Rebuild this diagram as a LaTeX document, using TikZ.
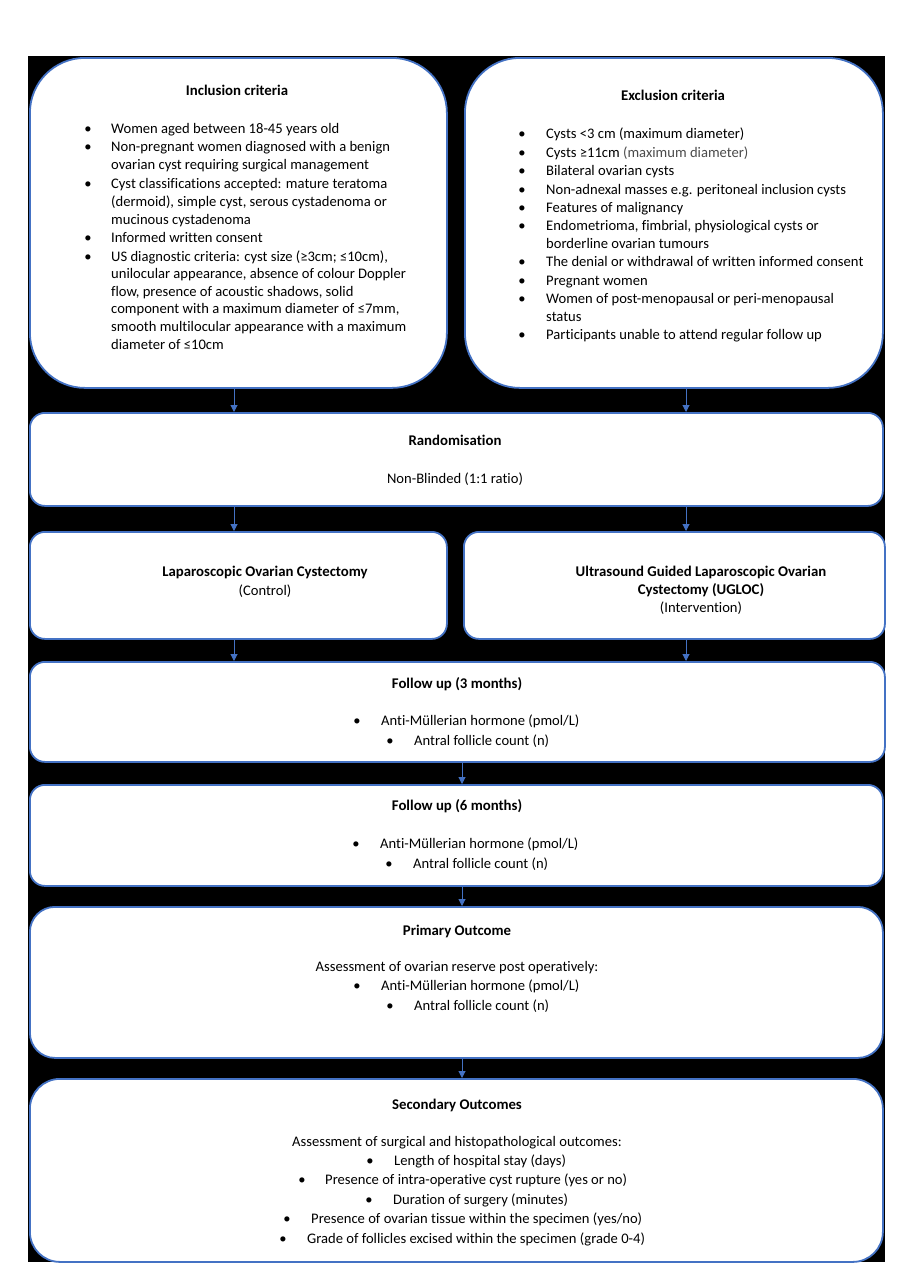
\documentclass[tikz,border=0pt]{standalone}
\usepackage{fontspec}
\setmainfont{Carlito}[Ligatures=NoCommon]
\usetikzlibrary{arrows.meta}
\definecolor{boxblue}{RGB}{68,114,196}
\definecolor{softgray}{RGB}{75,75,75}
\newcommand\bitem[5]{\node[txt] (#1b) at (#2,#4) {\textbullet};\node[txt,anchor=west] (#1) at (#3,#4) {#5};}
\newcommand\contline[4]{\node[txt,anchor=west] (#1) at (#2,#3) {#4};}
\begin{document}
\begin{tikzpicture}[x=1pt,y=-1pt,
  box/.style={draw=boxblue,line width=1.8pt,fill=white,inner sep=0pt,anchor=north west},
  txt/.style={inner sep=0pt,yshift=-1.5pt,font=\fontsize{14.6}{18}\selectfont,text height=11pt,text depth=3.5pt},
  ttl/.style={txt,font=\fontsize{14.8}{18}\selectfont\bfseries},
  arr/.style={draw=boxblue,line width=1pt,-{Triangle[width=7pt,length=7pt]}}]
\path[use as bounding box,fill=white] (0,0) rectangle (905,1280);
\fill[black] (28,56) rectangle (885,1262);
% boxes
\node[box,rounded corners=55pt,minimum width=417pt,minimum height=330pt] (incbox) at (29,57) {};
\node[box,rounded corners=55pt,minimum width=418pt,minimum height=330pt] (exbox) at (464,57) {};
\node[box,rounded corners=15pt,minimum width=853pt,minimum height=93pt] (rand) at (29,412) {};
\node[box,rounded corners=15pt,minimum width=417pt,minimum height=107pt] (ctrl) at (29,531) {};
\node[box,rounded corners=15pt,minimum width=421pt,minimum height=107pt] (interv) at (463,531) {};
\node[box,rounded corners=15pt,minimum width=855pt,minimum height=100pt] (fuA) at (29,661) {};
\node[box,rounded corners=15pt,minimum width=853pt,minimum height=101pt] (fuB) at (29,784) {};
\node[box,rounded corners=25pt,minimum width=853pt,minimum height=151pt] (prim) at (29,906) {};
\node[box,rounded corners=30pt,minimum width=853pt,minimum height=183pt] (sec) at (29,1078) {};
% arrow columns
\coordinate (colL) at (234,0);
\coordinate (colR) at (686,0);
\coordinate (colM) at (462,0);
\draw[arr] (incbox.south -| colL) -- (rand.north -| colL);
\draw[arr] (exbox.south -| colR) -- (rand.north -| colR);
\draw[arr] (rand.south -| colL) -- (ctrl.north -| colL);
\draw[arr] (rand.south -| colR) -- (interv.north -| colR);
\draw[arr] (ctrl.south -| colL) -- (fuA.north -| colL);
\draw[arr] (interv.south -| colR) -- (fuA.north -| colR);
\draw[arr] (fuA.south -| colM) -- (fuB.north -| colM);
\draw[arr] (fuB.south -| colM) -- (prim.north -| colM);
\draw[arr] (prim.south -| colM) -- (sec.north -| colM);
% inclusion
\node[ttl] (inctitle) at (237,90) {Inclusion criteria};
\bitem{incA}{88}{111}{128}{Women aged between 18-45 years old}
\bitem{incB}{88}{111}{146}{Non-pregnant women diagnosed with a benign}
\contline{incBa}{111}{164}{ovarian cyst requiring surgical management}
\bitem{incC}{88}{111}{183}{Cyst classifications accepted: mature teratoma}
\contline{incCa}{111}{201}{(dermoid), simple cyst, serous cystadenoma or}
\contline{incCb}{111}{219}{mucinous cystadenoma}
\bitem{incD}{88}{111}{237}{Informed written consent}
\bitem{incE}{88}{111}{256}{US diagnostic criteria: cyst size (≥3cm; ≤10cm),}
\contline{incEa}{111}{273}{unilocular appearance, absence of colour Doppler}
\contline{incEb}{111}{291}{flow, presence of acoustic shadows, solid}
\contline{incEc}{111}{308}{component with a maximum diameter of ≤7mm,}
\contline{incEd}{111}{326}{smooth multilocular appearance with a maximum}
\contline{incEe}{111}{344}{diameter of ≤10cm}
% exclusion
\node[ttl] (extitle) at (673,95) {Exclusion criteria};
\bitem{exA}{522}{546}{133}{Cysts <3 cm (maximum diameter)}
\bitem{exB}{522}{546}{152}{Cysts ≥11cm \textcolor{softgray}{(maximum diameter)}}
\bitem{exC}{522}{546}{170}{Bilateral ovarian cysts}
\bitem{exD}{522}{546}{189}{Non-adnexal masses e.g. peritoneal inclusion cysts}
\bitem{exE}{522}{546}{207}{Features of malignancy}
\bitem{exF}{522}{546}{225}{Endometrioma, fimbrial, physiological cysts or}
\contline{exFa}{546}{243}{borderline ovarian tumours}
\bitem{exG}{522}{546}{261}{The denial or withdrawal of written informed consent}
\bitem{exH}{522}{546}{280}{Pregnant women}
\bitem{exI}{522}{546}{298}{Women of post-menopausal or peri-menopausal}
\contline{exIa}{546}{316}{status}
\bitem{exJ}{522}{546}{334}{Participants unable to attend regular follow up}
% randomisation
\node[ttl] (randtitle) at (455,440) {Randomisation};
\node[txt] (randsub) at (455,478) {Non-Blinded (1:1 ratio)};
% arms
\node[ttl] (ctrltitle) at (265,571) {Laparoscopic Ovarian Cystectomy};
\node[txt] (ctrlsub) at (265,590) {(Control)};
\node[ttl] (intA) at (701,571) {Ultrasound Guided Laparoscopic Ovarian};
\node[ttl] (intB) at (701,589) {Cystectomy (UGLOC)};
\node[txt] (intC) at (701,607) {(Intervention)};
% follow up 3
\node[ttl] (fuAtitle) at (457,683) {Follow up (3 months)};
\bitem{fuAa}{357}{381}{720}{Anti-Müllerian hormone (pmol/L)}
\bitem{fuAb}{390}{414}{740}{Antral follicle count (n)}
% follow up 6
\node[ttl] (fuBtitle) at (457,805) {Follow up (6 months)};
\bitem{fuBa}{356}{380}{843}{Anti-Müllerian hormone (pmol/L)}
\bitem{fuBb}{389}{413}{863}{Antral follicle count (n)}
% primary
\node[ttl] (primtitle) at (457,930) {Primary Outcome};
\node[txt] (primsub) at (457,966) {Assessment of ovarian reserve post operatively:};
\bitem{primA}{357}{381}{985}{Anti-Müllerian hormone (pmol/L)}
\bitem{primB}{390}{414}{1005}{Antral follicle count (n)}
% secondary
\node[ttl] (sectitle) at (457,1104) {Secondary Outcomes};
\node[txt] (secsub) at (457,1141) {Assessment of surgical and histopathological outcomes:};
\bitem{secA}{370}{394}{1160}{Length of hospital stay (days)}
\bitem{secB}{302}{325}{1179}{Presence of intra-operative cyst rupture (yes or no)}
\bitem{secC}{369}{393}{1199}{Duration of surgery (minutes)}
\bitem{secD}{287}{311}{1218}{Presence of ovarian tissue within the specimen (yes/no)}
\bitem{secE}{283}{307}{1238}{Grade of follicles excised within the specimen (grade 0-4)}
\end{tikzpicture}
\end{document}
